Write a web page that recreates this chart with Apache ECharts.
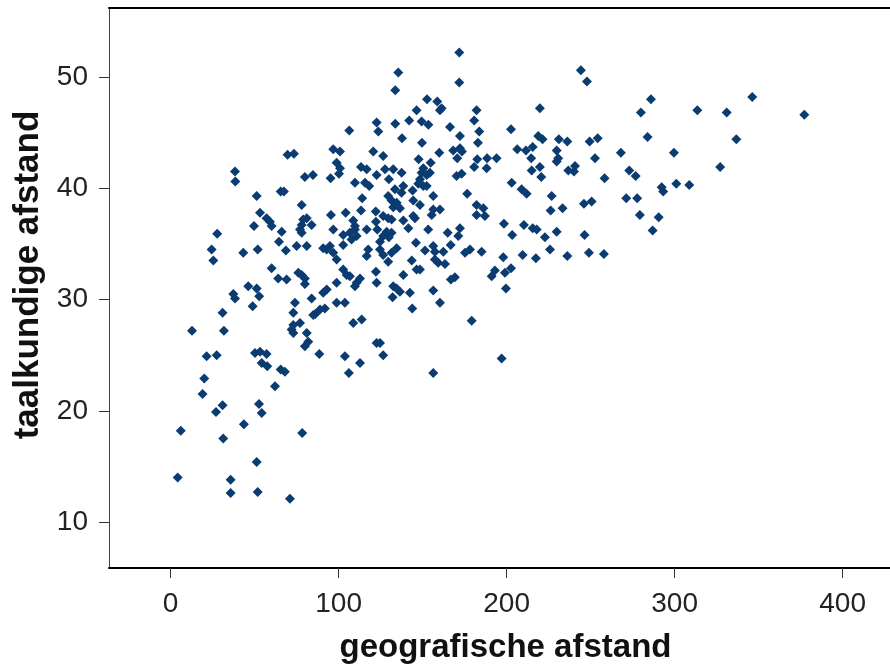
<!DOCTYPE html>
<html>
<head>
<meta charset="utf-8">
<script src="https://cdn.jsdelivr.net/npm/echarts@6/dist/echarts.min.js"></script>
<style>html,body{margin:0;padding:0;background:#fff}#c{width:890px;height:669px}</style>
</head>
<body>
<div id="c"></div>
<script>
const xTickValues = [0, 100, 200, 300, 400];
const yTickValues = [10, 20, 30, 40, 50];
const xTitle = 'geografische afstand';
const yTitle = 'taalkundige afstand';

// geografische afstand (x)
const geoDistance = [
122.6,123.6,106.3,96.8,100.8,120.6,69.6,73.4,98.8,100.8,100.2,113.3,116.7,122.6,38.3,38.5,79.9,84.7,95.2,109.7,115.7,118.2,51.2,65.5,67.4,114,
171.8,135.5,171.8,133.7,244.2,247.8,152.6,158.7,161.3,160.3,146.4,182.1,180.7,219.8,142,149.4,153.4,133.7,
166.3,183.7,202.6,172.2,137.7,149.6,182.9,218.8,221.4,231.1,236.1,249.4,254.2,168.2,172.2,173.4,159.9,126.5,170.6,206.3,211.5,215.5,229.8,230.7,229.8,252.6,214.6,182.5,188.4,194,147.6,154.8,180.7,188.1,219.8,214.9,236.7,240.7,240.1,
150.4,149.4,152.4,154.3,148.4,147.4,150.4,152.4,
127.6,132.5,137.5,129.9,170.2,173.2,203,208.9,211.9,220.6,133.5,138.5,144,176.5,156.3,226.8,
285.9,279.9,313.5,331,346.2,377.2,283.9,336.7,268,299.6,327.1,258.3,273,276.8,292.3,293.2,301,308.7,271.2,277.7,
279.3,290.5,286.9,257.9,
129.5,131.5,134.5,132.5,136.5,131.5,108.7,109.7,123,129.9,90.8,131.5,137.4,156.3,
144.4,148.4,160.3,182.1,186.1,182.1,187.1,226.2,233.3,246,250.6,155.4,126.5,129.5,138.5,144.4,145.4,141.5,153.3,164.9,172.2,171.2,198.4,210.3,215.5,217.9,229.8,222.8,203.3,246.4,128.6,131.5,126.5,124.6,146,134.5,151.4,156.3,157.3,162.3,166.7,175.2,178.2,185.1,225.8,209.5,217.4,236.1,249,124.6,126.5,129.5,143.5,157.3,159.3,163.3,146.4,148.4,198,193,191.1,199,202.6,199.6,166.8,169.2,138.5,132.5,134.5,136.5,142.4,132.1,156.3,160.3,143.8,179.2,124.6,126.5,197,
78,95.4,104.2,113.3,122.1,53.2,57.1,59.1,60.1,49.6,78.9,81,83.9,78,78,77,96.8,102.7,106.7,109.7,110.7,107.7,116.7,122.2,66.1,27.7,64.5,24.4,25.4,43.2,51.8,68.6,75,81,92.9,94.8,96.8,102.7,117.6,116.7,98.8,60.1,64,69,76,78,79.9,79.9,102.7,104.8,106.7,98.8,112.7,110.7,109.7,122.2,122.6,46.2,51.2,37.3,38.3,52.7,92.9,90.8,83.9,74,103.7,98.8,48.8,91.8,88.9,86.1,84.9,73,30.9,108.7,113.7,73,77,72,73,81,81.9,79.9,12.7,31.7,122.6,88.5,103.7,50.2,53.2,57.1,21.4,27.4,
54.2,57.5,65.5,68,106.1,112.7,20,62.1,19,30.9,27,52.6,54.2,43.6,6,31.3,78.3,51.2,4.2,35.7,35.7,51.8,71,
156.3
];

// taalkundige afstand (y)
const lingDistance = [
45.9,45.1,45.2,43.5,43.3,43.3,43.0,43.1,42.3,41.8,41.3,41.9,41.7,41.2,41.5,40.6,41.0,41.2,40.9,40.5,40.5,40.2,39.3,39.7,39.7,39.1,
52.2,50.4,49.5,48.8,50.6,49.6,48.0,47.8,47.2,47.0,47.0,47.0,46.1,47.2,46.1,46.0,45.7,45.8,
45.5,45.1,45.3,44.7,44.5,44.1,44.1,44.7,44.4,44.4,44.2,44.2,44.5,43.4,43.6,43.3,43.2,42.9,42.7,43.5,43.4,43.7,43.4,42.7,42.4,42.7,42.7,42.6,42.7,42.7,42.6,42.3,41.9,41.8,41.9,41.6,41.6,42.0,41.5,
41.8,41.4,41.2,41.4,40.8,40.4,40.2,40.2,
41.7,41.7,41.4,40.8,41.1,41.3,40.5,39.9,39.5,41.0,39.9,40.2,39.8,39.5,39.3,39.3,
48.0,46.8,47.0,46.8,48.2,46.6,44.6,44.4,43.2,43.2,41.9,40.9,41.6,41.1,40.1,39.7,40.4,40.3,39.1,39.1,
37.6,37.4,36.2,34.1,
39.3,38.9,38.7,38.3,38.2,37.2,37.1,36.6,36.3,35.6,34.6,34.2,39.6,38.1,
38.9,38.5,38.1,38.5,38.2,37.6,37.5,38.0,38.2,38.6,38.8,37.6,37.5,37.3,37.1,37.5,37.3,36.4,36.3,36.0,36.4,35.7,36.8,36.7,36.4,36.3,36.1,35.6,35.8,35.8,36.1,36.0,35.7,35.2,35.1,34.6,34.4,34.8,34.3,34.3,34.9,34.2,34.5,34.3,34.5,34.0,33.7,33.9,34.2,34.5,34.0,33.4,33.5,33.6,33.3,33.2,32.7,32.7,33.8,32.6,32.1,32.4,32.8,31.0,31.8,32.0,32.2,31.2,31.0,30.7,30.6,30.2,30.8,29.7,29.2,28.1,26.1,25.0,24.7,
38.5,37.6,37.8,38.0,37.9,37.8,37.3,37.0,36.6,36.6,37.2,37.3,36.7,36.7,36.0,36.3,36.3,35.8,36.0,36.3,35.7,35.4,36.3,37.0,36.1,35.9,35.2,34.5,33.5,34.2,34.5,34.4,34.8,34.8,34.5,34.8,34.2,34.9,34.5,33.9,33.6,32.8,31.9,31.8,32.4,32.2,31.9,31.4,32.7,32.2,32.1,31.5,31.9,31.5,31.2,32.5,31.5,31.2,31.0,30.5,30.1,30.3,30.9,30.6,30.1,29.7,29.7,29.7,29.4,29.2,29.1,28.7,28.6,28.8,28.8,27.9,28.2,27.7,27.9,27.3,27.0,27.0,26.2,25.8,27.2,27.2,26.1,25.1,24.9,25.2,25.3,25.1,24.9,25.0,
24.3,24.0,23.7,23.5,23.4,24.3,22.9,22.2,21.5,20.5,19.9,20.6,19.8,18.8,18.2,17.5,18.0,15.4,14.0,13.8,12.6,12.7,12.1,
23.4
];

const points = geoDistance.map((x, i) => [x, lingDistance[i]]);

const chart = echarts.init(document.getElementById('c'), null, {renderer: 'canvas'});
const labelFont = 'Liberation Sans, Arial, sans-serif';
chart.setOption({
  animation: false,
  backgroundColor: '#ffffff',
  grid: {left: 109, top: 8, right: 0, bottom: 101, containLabel: false, outerBoundsMode: 'none'},
  xAxis: [{
    type: 'value',
    min: -36.7, max: 428.2,
    splitLine: {show: false},
    axisLine: {show: true, onZero: false, lineStyle: {color: '#000', width: 2}},
    axisTick: {show: true, inside: false, length: 10, customValues: xTickValues, lineStyle: {color: '#333', width: 1}},
    axisLabel: {show: true, customValues: xTickValues, margin: 22, fontSize: 28, color: '#222', fontFamily: labelFont},
    name: xTitle, nameLocation: 'middle', nameGap: 63,
    nameTextStyle: {fontSize: 33, fontWeight: 'bold', color: '#111', fontFamily: labelFont, padding: [0, 0, 0, 12]}
  }, {
    type: 'value', position: 'top',
    min: -36.7, max: 428.2,
    splitLine: {show: false},
    axisLine: {show: true, onZero: false, lineStyle: {color: '#000', width: 2}},
    axisTick: {show: false}, axisLabel: {show: false}
  }],
  yAxis: {
    type: 'value',
    min: 5.87, max: 56.2,
    splitLine: {show: false},
    axisLine: {show: true, onZero: false, lineStyle: {color: '#444', width: 1}},
    axisTick: {show: true, inside: false, length: 10, customValues: yTickValues, lineStyle: {color: '#333', width: 1}},
    axisLabel: {show: true, customValues: yTickValues, margin: 21, fontSize: 28, color: '#222', fontFamily: labelFont},
    name: yTitle, nameLocation: 'middle', nameGap: 63, nameRotate: 90,
    nameTextStyle: {fontSize: 35, fontWeight: 'bold', color: '#111', fontFamily: labelFont, padding: [0, 0, 0, 26]}
  },
  series: [{
    type: 'scatter',
    xAxisIndex: 0,
    data: points,
    symbol: 'diamond',
    symbolSize: 10,
    itemStyle: {color: '#0b3c71', opacity: 1}
  }]
});
</script>
</body>
</html>
